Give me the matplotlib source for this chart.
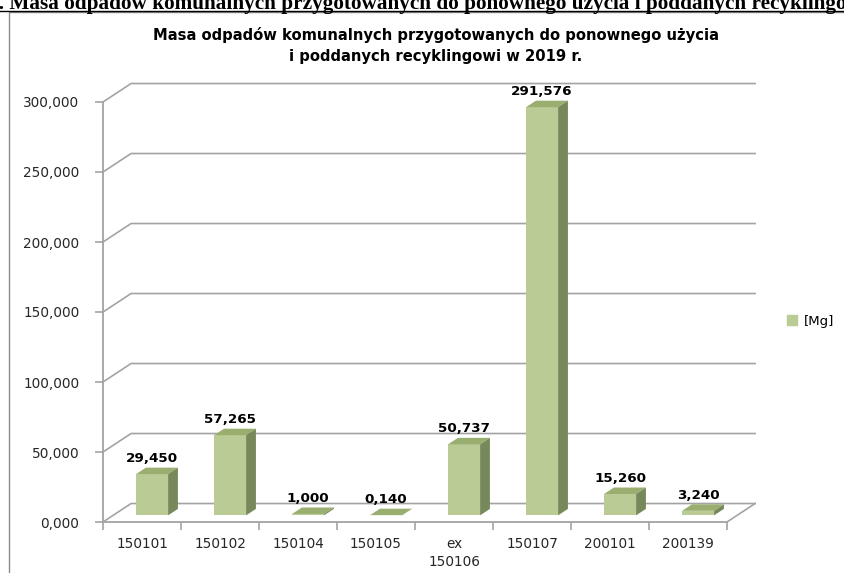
# -*- coding: utf-8 -*-
import matplotlib
matplotlib.use('Agg')
import matplotlib.pyplot as plt
from matplotlib.patches import Polygon, Rectangle, Patch
from matplotlib.lines import Line2D

# data
categories = ['150101', '150102', '150104', '150105', 'ex\n150106', '150107', '200101', '200139']
mass_mg = [29.450, 57.265, 1.000, 0.140, 50.737, 291.576, 15.260, 3.240]
y_ticks = [0, 50, 100, 150, 200, 250, 300]

title = 'Masa odpadów komunalnych przygotowanych do ponownego użycia\ni poddanych recyklingowi w 2019 r.'
header = '1. Masa odpadów komunalnych przygotowanych do ponownego użycia i poddanych recyklingowi w 2019 r.'
series_name = '[Mg]'

W, H = 845, 573
FRONT = '#bacb95'
TOP = '#9aae70'
SIDE = '#77895b'
GRID = '#a3a3a3'


def fmt(v):
    return '{:.3f}'.format(v).replace('.', ',')


fig = plt.figure(figsize=(W / 100, H / 100), dpi=100)

# heading of the page above the chart, cut off by the crop
fig.text(-12 / W, 1 - 9 / H, header, family='Liberation Serif', weight='bold',
         fontsize=15.3, ha='left', va='baseline')
fig.add_artist(Line2D([0, 1], [1 - 10.5 / H] * 2, transform=fig.transFigure,
                      color='black', lw=1))

# chart frame (runs off the right and bottom edges)
fig.add_artist(Rectangle((9 / W, -0.1), 1.2, 1.1 - 12 / H, transform=fig.transFigure,
                         fill=False, edgecolor='#8c8c8c', lw=1))

fig.text(436 / W, 1 - 45.5 / H, title, ha='center', va='center', fontsize=10.6,
         fontweight='bold', linespacing=1.45)

# front plane of the 3d box
ax = fig.add_axes([103 / W, 1 - 522 / H, 624 / W, 420 / H])
ax.set_xlim(0, len(categories))
ax.set_ylim(0, 300)
ax.patch.set_visible(False)
for s in ['top', 'right']:
    ax.spines[s].set_visible(False)
for s in ['left', 'bottom']:
    ax.spines[s].set_color(GRID)
    ax.spines[s].set_linewidth(1.3)

n = len(categories)
DX = 0.36      # depth of the box, x data units
DY = 13.2      # depth of the box, y data units
f = 0.36       # where the bars sit in depth
BW = 0.41
bx, by = 0.35 * DX, 0.35 * DY

# back wall gridlines
for v in y_ticks:
    ax.plot([0, DX, n + DX], [v, v + DY, v + DY], color=GRID, lw=1.2,
            clip_on=False, zorder=1)
ax.plot([n, n + DX], [0, DY], color=GRID, lw=1.2, clip_on=False, zorder=1)

# bars
centers = [i + 0.5 for i in range(n)]
for c, v in zip(centers, mass_mg):
    xc = c + f * DX
    y0 = f * DY
    y1 = y0 + v
    x0, x1 = xc - BW / 2, xc + BW / 2
    ax.bar(xc, v, width=BW, bottom=y0, color=FRONT, zorder=3, clip_on=False)
    ax.add_patch(Polygon([(x0, y1), (x1, y1), (x1 + bx, y1 + by), (x0 + bx, y1 + by)],
                         closed=True, facecolor=TOP, edgecolor='none', zorder=3,
                         clip_on=False))
    ax.add_patch(Polygon([(x1, y0), (x1 + bx, y0 + by), (x1 + bx, y1 + by), (x1, y1)],
                         closed=True, facecolor=SIDE, edgecolor='none', zorder=3,
                         clip_on=False))
    ax.annotate(fmt(v), xy=(xc, y1), xytext=(0, 8.6), textcoords='offset points',
                ha='center', va='baseline', fontsize=9.7, fontweight='bold',
                annotation_clip=False, zorder=4)

# axes ticks
ax.set_yticks(y_ticks)
ax.set_yticklabels([fmt(v) for v in y_ticks])
ax.tick_params(axis='y', length=6, color=GRID, width=1.2, pad=11, labelsize=9.8,
               labelcolor='#262626')
ax.set_xticks(range(n + 1))
ax.set_xticklabels([])
ax.tick_params(axis='x', which='major', length=6, color=GRID, width=1.2)
ax.set_xticks(centers, minor=True)
ax.set_xticklabels(categories, minor=True, linespacing=1.35)
ax.tick_params(axis='x', which='minor', length=0, pad=11, labelsize=9.8,
               labelcolor='#262626')

fig.legend(handles=[Patch(color=FRONT)], labels=[series_name], loc='center left',
           bbox_to_anchor=(787 / W, 1 - 321 / H), frameon=False, fontsize=9.5,
           handlelength=0.75, handleheight=0.75, handletextpad=0.5,
           borderpad=0, borderaxespad=0)

fig.savefig('out.png', dpi=100)
